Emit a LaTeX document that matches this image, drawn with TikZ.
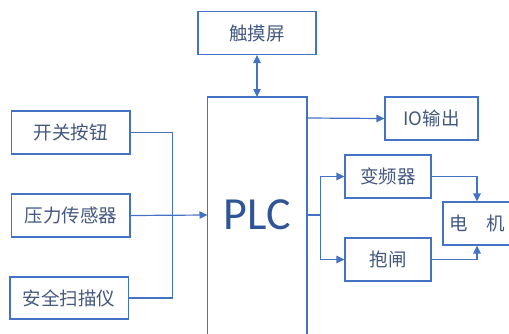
\documentclass[tikz,border=0pt]{standalone}
\usepackage{fontspec}
\setmainfont{Noto Sans CJK SC}
\newfontfamily\plcfont{Carlito}
\usetikzlibrary{arrows.meta}
\definecolor{lineblue}{HTML}{4472C4}
\definecolor{txtblue}{HTML}{44587F}
\definecolor{plcblue}{HTML}{2F5597}
\tikzset{
  x=1pt, y=-1pt,
  box/.style={draw=lineblue, line width=1.1pt, fill=white, text=txtblue, inner sep=0pt,
    font=\fontsize{18.5}{20}\selectfont},
  conn/.style={draw=lineblue, line width=1.2pt},
  arr/.style={conn, -{Triangle[length=8pt,width=7.5pt]}},
  darr/.style={conn, {Triangle[length=8pt,width=7.5pt]}-{Triangle[length=8pt,width=7.5pt]}},
}
\begin{document}
\begin{tikzpicture}
\useasboundingbox (0,0) rectangle (509,333);
% PLC box (extends below the bottom edge)
\draw[conn, line width=1.1pt] (207.5,345) -- (207.5,97) -- (307,97) -- (307,345);
\node[text=plcblue, font=\plcfont\fontsize{46}{48}\selectfont] (plc) at (257.2,215) {PLC};
\coordinate (plcL) at (207.5,215);
\coordinate (plcT) at (257,97);
\coordinate (plcR1) at (307,118);
\coordinate (plcR2) at (307,215);

\node[box, minimum width=118pt, minimum height=43pt] (touch) at (257,33) {触摸屏};
\node[box, minimum width=118.5pt, minimum height=43pt] (kg) at (70.75,132.5) {开关按钮};
\node[box, minimum width=118.5pt, minimum height=43pt] (yl) at (70.75,215.5) {压力传感器};
\node[box, minimum width=118.5pt, minimum height=42pt] (aq) at (69.25,298) {安全扫描仪};
\node[box, minimum width=93pt, minimum height=43pt] (io) at (431.5,118.5) {IO输出};
\node[box, minimum width=86pt, minimum height=43pt] (bp) at (388,176.5) {变频器};
\node[box, minimum width=86pt, minimum height=43pt] (bz) at (388,259.5) {抱闸};
\node[box, minimum width=68pt, minimum height=43pt] (dj) at (477,223.5) {电\hspace{1em}机};

\coordinate (bus) at (172.5,215);
\coordinate (split) at (320.5,215);

\draw[darr] (touch.south) -- (plcT);
\draw[conn] (kg.east) -| (bus);
\draw[conn] (aq.east) -| (bus);
\draw[arr] (yl.east) -- (plcL);
\draw[arr] (plcR1) -- (io.west);
\draw[conn] (plcR2) -- (split);
\draw[arr] (split) |- (bp.west);
\draw[arr] (split) |- (bz.west);
\draw[arr] (bp.east) -| (dj.north);
\draw[arr] (bz.east) -| (dj.south);
\end{tikzpicture}
\end{document}
